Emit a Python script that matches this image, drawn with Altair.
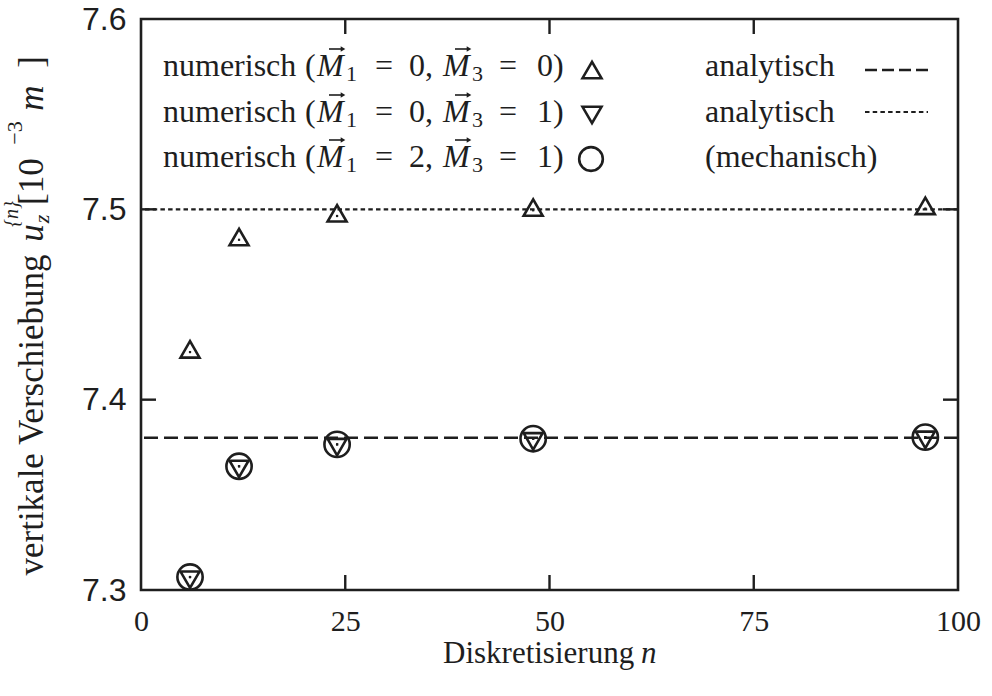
import altair as alt
import pandas as pd

# ---- data -------------------------------------------------------------
n_values = [6, 12, 24, 48, 96]
u_m1_0_m3_0 = [7.4250, 7.4840, 7.4965, 7.4995, 7.5004]   # triangles up
u_m1_0_m3_1 = [7.3068, 7.3650, 7.3765, 7.3795, 7.3803]   # triangles down
u_m1_2_m3_1 = [7.3068, 7.3650, 7.3765, 7.3795, 7.3803]   # circles
analytic_dashed = [7.38]
analytic_dotted = [7.50]
x_ticks = [0, 25, 50, 75, 100]
y_ticks = [7.3, 7.4, 7.5, 7.6]
x_inner_ticks = [25, 50, 75]
y_inner_ticks = [7.4, 7.5]

# ---- layout / style ---------------------------------------------------
W, H = 817, 571
LEFT, TOP = 141, 19
INK = "#1e1e1e"
SERIF = "Liberation Serif"
SANS = "Liberation Sans"
TICK = 15

xs = alt.Scale(domain=[0, 100], nice=False, zero=False)
ys = alt.Scale(domain=[7.3, 7.6], nice=False, zero=False)

pts = pd.DataFrame({
    "n": n_values * 3,
    "u": u_m1_0_m3_0 + u_m1_0_m3_1 + u_m1_2_m3_1,
    "serie": ["a"] * 5 + ["b"] * 5 + ["c"] * 5,
})
up = pts[pts.serie == "a"]
down = pts[pts.serie == "b"]
circ = pts[pts.serie == "c"]

X = alt.X("n:Q", scale=xs,
          axis=alt.Axis(values=x_ticks, title=None, labelFont=SERIF, labelFontSize=30,
                        labelPadding=16, labelColor=INK, ticks=False, domain=False,
                        grid=False, labelFlush=False))
Y = alt.Y("u:Q", scale=ys,
          axis=alt.Axis(values=y_ticks, format=".1f", title=None, labelFont=SANS,
                        labelFontSize=32, labelPadding=15, labelColor=INK, ticks=False,
                        domain=False, grid=False, labelFlush=False))

base = alt.Chart(pts).encode(x=X, y=Y)

tri_up = alt.Chart(up).mark_point(shape="triangle-up", size=360, filled=False,
                                  strokeWidth=2.6, color=INK, opacity=1,
                                  yOffset=-2.7).encode(x=X, y=Y)
tri_down = alt.Chart(down).mark_point(shape="triangle-down", size=360, filled=False,
                                      strokeWidth=2.6, color=INK, opacity=1,
                                      yOffset=2.7).encode(x=X, y=Y)
circles = alt.Chart(circ).mark_point(shape="circle", size=640, filled=False,
                                     strokeWidth=2.6, color=INK, opacity=1).encode(x=X, y=Y)
dots = base.mark_point(shape="square", size=5, filled=True, color=INK, opacity=1)

dashed = alt.Chart(pd.DataFrame({"u": analytic_dashed})).mark_rule(
    color=INK, strokeWidth=2.4, strokeDash=[14, 6]).encode(y=alt.Y("u:Q", scale=ys))
dotted = alt.Chart(pd.DataFrame({"u": analytic_dotted})).mark_rule(
    color=INK, strokeWidth=2.2, strokeDash=[4.5, 3.2]).encode(y=alt.Y("u:Q", scale=ys))

# inward ticks on all four sides
xt = pd.DataFrame({"n": x_inner_ticks})
yt = pd.DataFrame({"u": y_inner_ticks})
tick_style = dict(color=INK, strokeWidth=2.4)
ticks = [
    alt.Chart(xt).mark_rule(**tick_style).encode(x=alt.X("n:Q", scale=xs), y=alt.value(H), y2=alt.value(H - TICK)),
    alt.Chart(xt).mark_rule(**tick_style).encode(x=alt.X("n:Q", scale=xs), y=alt.value(0), y2=alt.value(TICK)),
    alt.Chart(yt).mark_rule(**tick_style).encode(y=alt.Y("u:Q", scale=ys), x=alt.value(0), x2=alt.value(TICK)),
    alt.Chart(yt).mark_rule(**tick_style).encode(y=alt.Y("u:Q", scale=ys), x=alt.value(W), x2=alt.value(W - TICK)),
]

one = pd.DataFrame({"k": [0]})


def label(txt, x, y, size=32, style="normal", font=SERIF, align="left",
          baseline="alphabetic", angle=0):
    return alt.Chart(one).mark_text(
        text=txt, font=font, fontSize=size, fontStyle=style, align=align,
        baseline=baseline, angle=angle, color=INK
    ).encode(x=alt.value(x - LEFT), y=alt.value(y - TOP))


def vec_arrow(x, y, length=17):
    """Small vector arrow drawn above an italic M."""
    shaft = alt.Chart(one).mark_rule(color=INK, strokeWidth=1.6).encode(
        x=alt.value(x - LEFT), x2=alt.value(x + length - 3 - LEFT), y=alt.value(y - TOP))
    head = alt.Chart(one).mark_point(shape="triangle-right", size=28, filled=True,
                                     color=INK, opacity=1).encode(
        x=alt.value(x + length - 3 - LEFT), y=alt.value(y - TOP))
    return [shaft, head]


texts = []
arrows = []

# key: numerical series
key_rows = [(76, "0", "0"), (122, "0", "1"), (167, "2", "1")]
for B, m1, m3 in key_rows:
    texts += [
        label("numerisch", 163, B),
        label("(", 305, B),
        label("M", 317, B, style="italic"),
        label("1", 346, B + 5, size=22),
        label("=", 384, B, align="center"),
        label(m1 + ",", 409, B),
        label("M", 443, B, style="italic"),
        label("3", 472, B + 5, size=22),
        label("=", 508, B, align="center"),
        label(m3 + ")", 537, B),
    ]
    arrows += vec_arrow(329, B - 27) + vec_arrow(455, B - 27)

# key: analytical lines
texts += [
    label("analytisch", 705, 76),
    label("analytisch", 705, 122),
    label("(mechanisch)", 705, 167),
]

key_symbols = [
    alt.Chart(one).mark_point(shape="triangle-up", size=360, filled=False, strokeWidth=2.6,
                              color=INK, opacity=1).encode(x=alt.value(592 - LEFT), y=alt.value(70 - TOP)),
    alt.Chart(one).mark_point(shape="triangle-down", size=360, filled=False, strokeWidth=2.6,
                              color=INK, opacity=1).encode(x=alt.value(592 - LEFT), y=alt.value(115 - TOP)),
    alt.Chart(one).mark_point(shape="circle", size=560, filled=False, strokeWidth=2.6,
                              color=INK, opacity=1).encode(x=alt.value(591 - LEFT), y=alt.value(159 - TOP)),
    alt.Chart(one).mark_rule(color=INK, strokeWidth=2.4, strokeDash=[12, 5]).encode(
        x=alt.value(865 - LEFT), x2=alt.value(928 - LEFT), y=alt.value(70 - TOP)),
    alt.Chart(one).mark_rule(color=INK, strokeWidth=2.2, strokeDash=[4.5, 3.2]).encode(
        x=alt.value(865 - LEFT), x2=alt.value(928 - LEFT), y=alt.value(112 - TOP)),
]

# axis titles
texts += [
    label("Diskretisierung", 443, 663, size=31),
    label("n", 641, 663, size=31, style="italic"),
    # rotated y title, pieces placed along the vertical
    label("vertikale Verschiebung", 43, 415, size=35, angle=270, align="center"),
    label("u", 43, 233, size=35, style="italic", angle=270, align="center"),
    label("{n}", 18, 214, size=20, style="italic", angle=270, align="center"),
    label("z", 49, 219, size=22, style="italic", angle=270, align="center"),
    label("[10", 43, 205, size=35, angle=270, align="left"),
    label("\u22123", 22, 133, size=22, angle=270, align="center"),
    label("m", 43, 98, size=35, style="italic", angle=270, align="center"),
    label("]", 43, 62, size=35, angle=270, align="center"),
]

chart = alt.layer(
    dotted, dashed, *ticks, tri_up, tri_down, circles, dots, *key_symbols, *arrows, *texts
).properties(
    width=W, height=H,
    padding={"left": LEFT, "top": TOP, "right": 992 - LEFT - W, "bottom": 696 - TOP - H},
    autosize=alt.AutoSizeParams(type="none"),
    background="white",
).configure_view(
    stroke=INK, strokeWidth=2.6
)

chart.save("out.html", embed_options={"renderer": "svg", "actions": False})
